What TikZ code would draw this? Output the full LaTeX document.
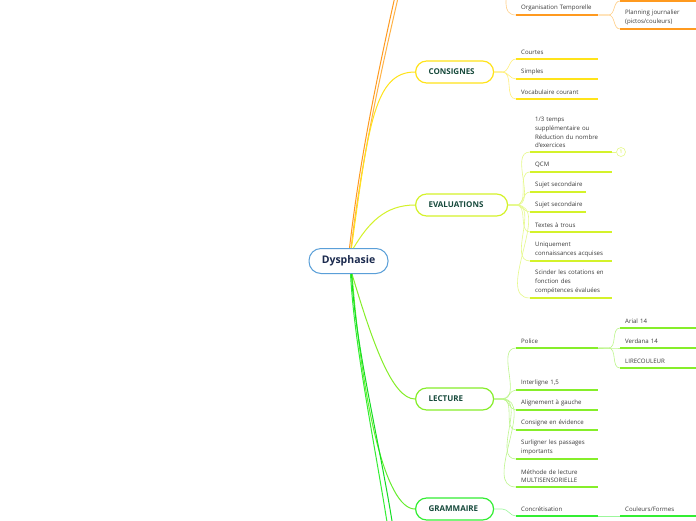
\documentclass[tikz,border=0pt]{standalone}
\usepackage{fontspec}
\setmainfont{Open Sans}
\definecolor{rootblue}{HTML}{5A9FD8}
\definecolor{rootink}{HTML}{1B2A4E}
\definecolor{boxink}{HTML}{174A3C}
\definecolor{leafink}{HTML}{3A3A3A}
\definecolor{orangeA}{HTML}{FF9A1F}
\definecolor{orangeB}{HTML}{FFB347}
\definecolor{orangeL}{HTML}{FFD08A}
\definecolor{yellowA}{HTML}{FFE31A}
\definecolor{yellowL}{HTML}{FFF07A}
\definecolor{limeA}{HTML}{D4F22A}
\definecolor{limeL}{HTML}{E6F98A}
\definecolor{greenA}{HTML}{86EE2A}
\definecolor{greenL}{HTML}{BDF68C}
\definecolor{grassA}{HTML}{33EE33}
\definecolor{grassL}{HTML}{9CF79C}
\definecolor{grassD}{HTML}{11DD22}

\begin{document}
\begin{tikzpicture}[
  x=1pt, y=-1pt,
  root/.style={draw=rootblue, line width=1pt, rounded corners=12pt, fill=white, minimum width=79pt, minimum height=25pt, inner sep=0pt, text=rootink, font=\fontsize{10.5}{12}\selectfont\bfseries},
  box/.style={draw=#1, line width=1.2pt, rounded corners=11pt, fill=white, anchor=west, minimum height=22pt, text width=52pt, inner xsep=13pt, inner ysep=0pt, align=left, text=boxink, font=\fontsize{8}{10}\selectfont\bfseries},
  leaf/.style={anchor=south west, text width=#1, inner xsep=5pt, inner ysep=4pt, align=left, text=leafink, font=\fontsize{6.1}{8.7}\selectfont, execute at begin node={\hyphenpenalty=10000}},
  limb/.style={draw=#1, line width=1pt},
  twig/.style={draw=#1, line width=0.6pt},
  under/.style={draw=#1, line width=1.4pt},
  badge/.style={circle, draw=limeL, line width=0.6pt, fill=white, minimum size=9pt, inner sep=0pt, text=limeA, font=\fontsize{5}{6}\selectfont}
]
\useasboundingbox (0,0) rectangle (696,520);
\fill[white] (0,0) rectangle (696,520);
\clip (0,0) rectangle (696,520);

% Nodes
\node[root] (dys) at (348.5,261) {Dysphasie};
\node[box=yellowA] (consignes) at (415,72) {CONSIGNES};
\node[box=limeA, text width=66pt] (evaluations) at (415,205) {EVALUATIONS};
\node[box=greenA] (lecture) at (415,399) {LECTURE};
\node[box=grassA] (grammaire) at (415,509) {GRAMMAIRE};

% branches leaving the page
\coordinate (upA) at (410,-70);
\coordinate (upB) at (414,-70);
\coordinate (downA) at (400,580);
\coordinate (downB) at (396,585);
\coordinate (orgUp) at (505,-60);
\coordinate (hidA) at (620,1);
\coordinate (hidB) at (700,1);

% Leaves
\node[leaf=72pt] (org) at (516,15) {Organisation Temporelle};
\node[leaf=70pt] (plan) at (620,29) {Planning journalier\\(pictos/couleurs)};

\node[leaf=72pt] (cour) at (516,59) {Courtes};
\node[leaf=72pt] (simp) at (516,79) {Simples};
\node[leaf=72pt] (voca) at (516,99) {Vocabulaire courant};

\node[leaf=72pt] (tiers) at (530,152) {1/3 temps\\supplémentaire ou\\Réduction du nombre\\d'exercices};
\node[badge] (un) at (621,152) {1};
\node[leaf=72pt] (qcm) at (530,172) {QCM};
\node[leaf=46pt] (sujA) at (530,192) {\mbox{Sujet secondaire}};
\node[leaf=46pt] (sujB) at (530,212) {\mbox{Sujet secondaire}};
\node[leaf=72pt] (trous) at (530,232) {Textes à trous};
\node[leaf=72pt] (uniq) at (530,261) {Uniquement\\connaissances acquises};
\node[leaf=72pt] (scind) at (530,298) {Scinder les cotations en\\fonction des\\compétences évaluées};

\node[leaf=72pt] (police) at (516,348) {Police};
\node[leaf=70pt] (arial) at (620,328) {Arial 14};
\node[leaf=70pt] (verd) at (620,348) {Verdana 14};
\node[leaf=70pt] (lire) at (620,368) {LIRECOULEUR};
\node[leaf=72pt] (inter) at (516,390) {Interligne 1,5};
\node[leaf=72pt] (align) at (516,410) {Alignement à gauche};
\node[leaf=72pt] (consev) at (516,430) {Consigne en évidence};
\node[leaf=72pt] (surl) at (516,459) {Surligner les passages\\importants};
\node[leaf=72pt] (meth) at (516,487) {Méthode de lecture\\MULTISENSORIELLE};

\node[leaf=72pt] (concr) at (516,516) {Concrétisation};
\node[leaf=70pt] (coul) at (620,516) {Couleurs/Formes};

% Connectors from the centre
\draw[limb=orangeA] ([xshift=1pt]dys.north) .. controls (362,140) and (385,40) .. (upA);
\draw[limb=orangeB] ([xshift=2.5pt]dys.north) .. controls (364,140) and (388,40) .. (upB);
\draw[limb=yellowA] ([xshift=3pt]dys.north) .. controls +(17,-125) and +(-40,0) .. (consignes.west);
\draw[limb=limeA] ([xshift=5pt]dys.north) .. controls +(15,-25) and +(-30,0) .. (evaluations.west);
\draw[limb=greenA] ([xshift=3.5pt]dys.south) .. controls +(20,67) and +(-23,0) .. (lecture.west);
\draw[limb=greenA!60!grassA] ([xshift=3.5pt]dys.south) .. controls +(10,127) and +(-30,0) .. (grammaire.west);
\draw[limb=grassD] ([xshift=3pt]dys.south) .. controls +(5,90) and +(-10,-100) .. (downA);
\draw[limb=grassA] ([xshift=2pt]dys.south) .. controls +(5,90) and +(-12,-100) .. (downB);

% Organisation
\draw[twig=orangeL] (orgUp) to[out=0,in=180] (org.south west);
\draw[under=orangeA] (org.south west) -- (org.south east);
\draw[twig=orangeL] (org.south east) -- ++(10,0) to[out=0,in=180] (hidA);
\draw[twig=orangeL] (org.south east) -- ++(10,0) to[out=0,in=180] (plan.south west);
\draw[under=orangeA] (hidA) -- (hidB);
\draw[under=orangeA] (plan.south west) -- (plan.south east);

% Consignes
\draw[twig=yellowL] (consignes.east) -- ++(8,0) to[out=0,in=180] (cour.south west);
\draw[twig=yellowL] (consignes.east) -- ++(8,0) to[out=0,in=180] (simp.south west);
\draw[twig=yellowL] (consignes.east) -- ++(8,0) to[out=0,in=180] (voca.south west);
\draw[under=yellowA] (cour.south west) -- (cour.south east);
\draw[under=yellowA] (simp.south west) -- (simp.south east);
\draw[under=yellowA] (voca.south west) -- (voca.south east);

% Evaluations
\draw[twig=limeL] (evaluations.east) -- ++(8,0) to[out=0,in=180] (tiers.south west);
\draw[twig=limeL] (evaluations.east) -- ++(8,0) to[out=0,in=180] (qcm.south west);
\draw[twig=limeL] (evaluations.east) -- ++(8,0) to[out=0,in=180] (sujA.south west);
\draw[twig=limeL] (evaluations.east) -- ++(8,0) to[out=0,in=180] (sujB.south west);
\draw[twig=limeL] (evaluations.east) -- ++(8,0) to[out=0,in=180] (trous.south west);
\draw[twig=limeL] (evaluations.east) -- ++(8,0) to[out=0,in=180] (uniq.south west);
\draw[twig=limeL] (evaluations.east) -- ++(8,0) to[out=0,in=180] (scind.south west);
\draw[under=limeA] (tiers.south west) -- (tiers.south east);
\draw[twig=limeL] (tiers.south east) -- (un.west);
\draw[under=limeA] (qcm.south west) -- (qcm.south east);
\draw[under=limeA] (sujA.south west) -- (sujA.south east);
\draw[under=limeA] (sujB.south west) -- (sujB.south east);
\draw[under=limeA] (trous.south west) -- (trous.south east);
\draw[under=limeA] (uniq.south west) -- (uniq.south east);
\draw[under=limeA] (scind.south west) -- (scind.south east);

% Lecture
\draw[twig=greenL] (lecture.east) -- ++(8,0) to[out=0,in=180] (police.south west);
\draw[twig=greenL] (lecture.east) -- ++(8,0) to[out=0,in=180] (inter.south west);
\draw[twig=greenL] (lecture.east) -- ++(8,0) to[out=0,in=180] (align.south west);
\draw[twig=greenL] (lecture.east) -- ++(8,0) to[out=0,in=180] (consev.south west);
\draw[twig=greenL] (lecture.east) -- ++(8,0) to[out=0,in=180] (surl.south west);
\draw[twig=greenL] (lecture.east) -- ++(8,0) to[out=0,in=180] (meth.south west);
\draw[twig=greenL] (police.south east) -- ++(10,0) to[out=0,in=180] (arial.south west);
\draw[twig=greenL] (police.south east) -- ++(10,0) to[out=0,in=180] (verd.south west);
\draw[twig=greenL] (police.south east) -- ++(10,0) to[out=0,in=180] (lire.south west);
\draw[under=greenA] (police.south west) -- (police.south east);
\draw[under=greenA] (arial.south west) -- (arial.south east);
\draw[under=greenA] (verd.south west) -- (verd.south east);
\draw[under=greenA] (lire.south west) -- (lire.south east);
\draw[under=greenA] (inter.south west) -- (inter.south east);
\draw[under=greenA] (align.south west) -- (align.south east);
\draw[under=greenA] (consev.south west) -- (consev.south east);
\draw[under=greenA] (surl.south west) -- (surl.south east);
\draw[under=greenA] (meth.south west) -- (meth.south east);

% Grammaire
\draw[twig=grassL] (grammaire.east) -- ++(8,0) to[out=0,in=180] (concr.south west);
\draw[under=grassA] (concr.south west) -- (concr.south east);
\draw[twig=grassL] (concr.south east) -- (coul.south west);
\draw[under=grassA] (coul.south west) -- (coul.south east);

\end{tikzpicture}
\end{document}
